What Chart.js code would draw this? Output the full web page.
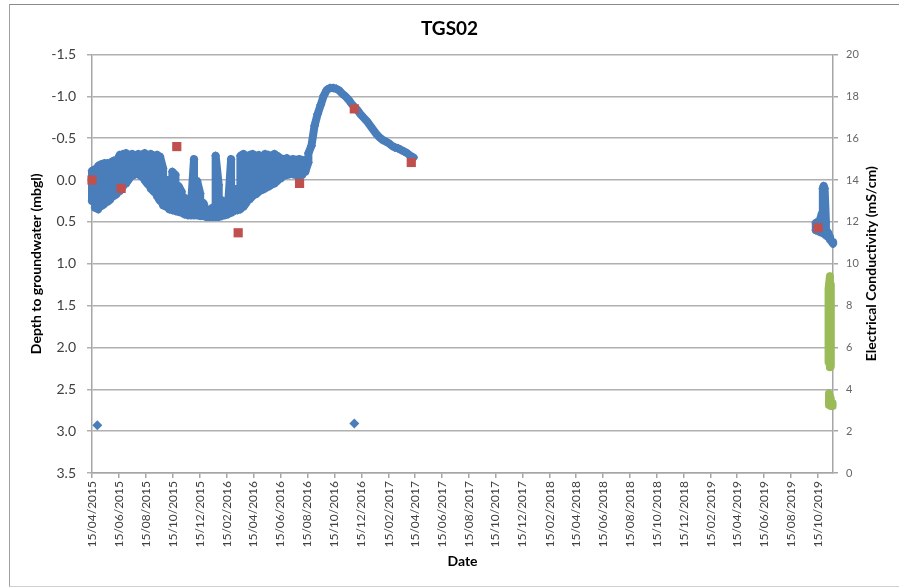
<!DOCTYPE html>
<html>
<head>
<meta charset="utf-8">
<title>TGS02</title>
<script src="https://cdn.jsdelivr.net/npm/chart.js@4.4.1/dist/chart.umd.min.js"></script>
<style>
  html, body { margin: 0; padding: 0; background: #fff; overflow: hidden; }
  #wrap { position: relative; width: 899px; height: 588px; overflow: hidden; }
  #frame {
    position: absolute; left: 9px; top: 4px; width: 910px; height: 583px;
    box-sizing: border-box; border: 1px solid #8a8a8a;
    border-left-color: #a0a0a0; border-bottom-color: #d0d0d0;
  }
  canvas { position: absolute; left: 0; top: 0; }
</style>
</head>
<body>
<div id="wrap">
  <div id="frame"></div>
  <canvas id="chart" width="899" height="588"></canvas>
</div>
<script>
// ---- Axis labels ----
const chartTitle = 'TGS02';
const depthAxisTitle = 'Depth to groundwater (mbgl)';
const ecAxisTitle = 'Electrical Conductivity (mS/cm)';
const dateAxisTitle = 'Date';

const tickLabels = [
  '15/04/2015', '15/06/2015', '15/08/2015', '15/10/2015', '15/12/2015',
  '15/02/2016', '15/04/2016', '15/06/2016', '15/08/2016', '15/10/2016', '15/12/2016',
  '15/02/2017', '15/04/2017', '15/06/2017', '15/08/2017', '15/10/2017', '15/12/2017',
  '15/02/2018', '15/04/2018', '15/06/2018', '15/08/2018', '15/10/2018', '15/12/2018',
  '15/02/2019', '15/04/2019', '15/06/2019', '15/08/2019', '15/10/2019'
];
const axisStart = '2015-04-15';
const axisEnd = '2019-11-18';

// ---- Logger record 2015-2017: shallowest and deepest reading per week (m bgl) ----
const depthDates = [
  '2015-04-15', '2015-04-22', '2015-04-29', '2015-05-06', '2015-05-13', '2015-05-20', '2015-05-27', '2015-06-03', '2015-06-10', '2015-06-17',
  '2015-06-24', '2015-07-01', '2015-07-08', '2015-07-15', '2015-07-22', '2015-07-29', '2015-08-05', '2015-08-12', '2015-08-19', '2015-08-26',
  '2015-09-02', '2015-09-09', '2015-09-16', '2015-09-23', '2015-09-30', '2015-10-07', '2015-10-14', '2015-10-21', '2015-10-28', '2015-11-04',
  '2015-11-11', '2015-11-18', '2015-11-25', '2015-12-02', '2015-12-09', '2015-12-16', '2015-12-23', '2015-12-30', '2016-01-06', '2016-01-13',
  '2016-01-20', '2016-01-27', '2016-02-03', '2016-02-10', '2016-02-17', '2016-02-24', '2016-03-02', '2016-03-09', '2016-03-16', '2016-03-23',
  '2016-03-30', '2016-04-06', '2016-04-13', '2016-04-20', '2016-04-27', '2016-05-04', '2016-05-11', '2016-05-18', '2016-05-25', '2016-06-01',
  '2016-06-08', '2016-06-15', '2016-06-22', '2016-06-29', '2016-07-06', '2016-07-13', '2016-07-20', '2016-07-27', '2016-08-03', '2016-08-10',
  '2016-08-17', '2016-08-24', '2016-08-31', '2016-09-07', '2016-09-14', '2016-09-21', '2016-09-28', '2016-10-05', '2016-10-12', '2016-10-19',
  '2016-10-26', '2016-11-02', '2016-11-09', '2016-11-16', '2016-11-23', '2016-11-30', '2016-12-07', '2016-12-14', '2016-12-21', '2016-12-28',
  '2017-01-04', '2017-01-11', '2017-01-18', '2017-01-25', '2017-02-01', '2017-02-08', '2017-02-15', '2017-02-22', '2017-03-01', '2017-03-08',
  '2017-03-15', '2017-03-22', '2017-03-29', '2017-04-05', '2017-04-12'
];
const depthShallow = [
  -0.11, -0.13, -0.17, -0.19, -0.20, -0.20, -0.21, -0.23, -0.23, -0.30,
  -0.31, -0.32, -0.30, -0.31, -0.29, -0.31, -0.30, -0.32, -0.30, -0.31,
  -0.29, -0.30, -0.28, -0.14, 0.00, 0.00, -0.10, -0.06, 0.07, 0.14,
  0.21, 0.26, 0.32, -0.25, 0.01, 0.16, 0.27, 0.37, 0.42, 0.33,
  -0.29, 0.06, 0.24, 0.32, 0.31, -0.25, 0.10, 0.21, -0.29, -0.31,
  -0.28, -0.30, -0.31, -0.29, -0.30, -0.28, -0.31, -0.30, -0.29, -0.31,
  -0.29, -0.26, -0.25, -0.26, -0.24, -0.25, -0.24, -0.25, -0.24, -0.23,
  -0.32, -0.41, -0.65, -0.79, -0.90, -1.01, -1.08, -1.10, -1.10, -1.09,
  -1.07, -1.03, -1.00, -0.96, -0.91, -0.87, -0.83, -0.78, -0.74, -0.70,
  -0.65, -0.60, -0.55, -0.51, -0.48, -0.46, -0.44, -0.41, -0.39, -0.38,
  -0.36, -0.34, -0.32, -0.29, -0.27
];
const depthDeep = [
  0.25, 0.33, 0.35, 0.31, 0.29, 0.26, 0.23, 0.19, 0.17, 0.13,
  0.08, 0.04, -0.01, -0.05, -0.07, -0.07, -0.04, 0.00, 0.05, 0.10,
  0.14, 0.19, 0.25, 0.30, 0.32, 0.35, 0.36, 0.37, 0.38, 0.39,
  0.41, 0.42, 0.42, 0.42, 0.42, 0.43, 0.43, 0.44, 0.44, 0.44,
  0.44, 0.44, 0.43, 0.42, 0.41, 0.39, 0.37, 0.36, 0.35, 0.32,
  0.27, 0.23, 0.19, 0.17, 0.14, 0.12, 0.10, 0.08, 0.06, 0.04,
  0.01, -0.02, -0.05, -0.06, -0.07, -0.07, -0.06, -0.05, -0.06, -0.10,
  -0.21, -0.41, -0.65, -0.79, -0.90, -1.01, -1.08, -1.10, -1.10, -1.09,
  -1.07, -1.03, -1.00, -0.96, -0.91, -0.87, -0.83, -0.78, -0.74, -0.70,
  -0.65, -0.60, -0.55, -0.51, -0.48, -0.46, -0.44, -0.41, -0.39, -0.38,
  -0.36, -0.34, -0.32, -0.29, -0.27
];

// ---- Logger record 2019 ----
const recentDates = ['2019-10-10', '2019-10-15', '2019-10-19', '2019-10-24', '2019-10-26', '2019-10-28', '2019-10-30', '2019-11-02', '2019-11-06', '2019-11-11', '2019-11-18'];
const recentShallow = [0.51, 0.50, 0.48, 0.40, 0.10, 0.07, 0.10, 0.50, 0.62, 0.68, 0.74];
const recentDeep = [0.60, 0.61, 0.62, 0.63, 0.63, 0.64, 0.65, 0.66, 0.68, 0.71, 0.76];

// ---- Spurious logger readings ----
const spikeDates = ['2015-04-27', '2016-11-29'];
const spikeDepths = [2.93, 2.91];

// ---- Manual dip readings (m bgl) ----
const dipDates = ['2015-04-15', '2015-06-20', '2015-10-24', '2016-03-11', '2016-07-28', '2016-11-29', '2017-04-07', '2019-10-15'];
const dipDepths = [0.00, 0.10, -0.40, 0.63, 0.04, -0.85, -0.21, 0.57];

// ---- Electrical conductivity (mS/cm), two logger runs ----
const ecDates = ['2019-11-08', '2019-11-11', '2019-11-13'];
const ecLow = [5.30, 5.05, 5.10];
const ecHigh = [8.80, 9.40, 9.00];
const ecDates2 = ['2019-11-09', '2019-11-13', '2019-11-17'];
const ecLow2 = [3.25, 3.20, 3.20];
const ecHigh2 = [3.80, 3.55, 3.35];

// ---- Helpers ----
const DAY = 86400000;
function isoDay(s) {
  const [y, m, d] = s.split('-').map(Number);
  return Date.UTC(y, m - 1, d) / DAY;
}
function dmyDay(s) {
  const [d, m, y] = s.split('/').map(Number);
  return Date.UTC(y, m - 1, d) / DAY;
}
// Weekly range as a zig-zag path: each date gets a vertical run from its
// deepest to its shallowest reading, alternating direction.
function rangePath(dates, shallow, deep) {
  const pts = [];
  dates.forEach((d, i) => {
    const x = isoDay(d);
    const pair = i % 2 === 0 ? [deep[i], shallow[i]] : [shallow[i], deep[i]];
    pair.forEach(v => pts.push({ x, y: v }));
  });
  return pts;
}
function points(dates, values) {
  return dates.map((d, i) => ({ x: isoDay(d), y: values[i] }));
}

const BLUE = '#4a7ebb';
const RED = '#c0504d';
const GREEN = '#9bbb59';

// Dense logger readings: thick joined path plus diamond/triangle markers
const bandStyle = (color, axis, marker) => ({
  showLine: true,
  borderColor: color,
  backgroundColor: color,
  borderWidth: 8,
  borderJoinStyle: 'round',
  borderCapStyle: 'round',
  pointStyle: marker,
  pointRadius: 4.5,
  pointBackgroundColor: color,
  pointBorderColor: color,
  pointBorderWidth: 0,
  tension: 0,
  yAxisID: axis,
  clip: false
});

const tickDays = tickLabels.map(dmyDay);

const rightTitle = {
  id: 'rightTitle',
  afterDraw(chart) {
    const { ctx, chartArea, scales } = chart;
    ctx.save();
    ctx.translate(scales.y2.left + 38, (chartArea.top + chartArea.bottom) / 2);
    ctx.rotate(-Math.PI / 2);
    ctx.font = "bold 14px Lato, 'Open Sans', sans-serif";
    ctx.fillStyle = '#000';
    ctx.textAlign = 'center';
    ctx.textBaseline = 'middle';
    ctx.fillText(ecAxisTitle, 0, 0);
    ctx.restore();
  }
};

Chart.defaults.font.family = "Lato, 'Open Sans', sans-serif";

new Chart(document.getElementById('chart'), {
  type: 'scatter',
  data: {
    datasets: [
      {
        label: 'Manual dip',
        data: points(dipDates, dipDepths),
        pointStyle: 'rect',
        pointRadius: 6.5,
        pointBackgroundColor: RED,
        pointBorderColor: RED,
        pointBorderWidth: 0,
        yAxisID: 'y',
        order: 0,
        clip: false
      },
      {
        label: 'Logger (spurious)',
        data: points(spikeDates, spikeDepths),
        pointStyle: 'rectRot',
        pointRadius: 5,
        pointBackgroundColor: BLUE,
        pointBorderColor: BLUE,
        pointBorderWidth: 0,
        yAxisID: 'y',
        order: 1,
        clip: false
      },
      Object.assign({ label: 'Logger 2015-2017', data: rangePath(depthDates, depthShallow, depthDeep), order: 2 }, bandStyle(BLUE, 'y', 'rectRot')),
      Object.assign({ label: 'Logger 2019', data: rangePath(recentDates, recentShallow, recentDeep), order: 2 }, bandStyle(BLUE, 'y', 'rectRot')),
      Object.assign({ label: 'EC', data: rangePath(ecDates, ecHigh, ecLow), order: 3 }, bandStyle(GREEN, 'y2', 'triangle')),
      Object.assign({ label: 'EC (2)', data: rangePath(ecDates2, ecHigh2, ecLow2), order: 3 }, bandStyle(GREEN, 'y2', 'triangle'))
    ]
  },
  options: {
    responsive: false,
    animation: false,
    devicePixelRatio: 1,
    layout: { padding: 0 },
    plugins: {
      legend: { display: false },
      tooltip: { enabled: false },
      title: {
        display: true,
        text: chartTitle,
        color: '#000',
        font: { size: 19, weight: 'bold', lineHeight: 1.2 },
        padding: { top: 17, bottom: 14.7 }
      }
    },
    scales: {
      x: {
        type: 'linear',
        position: 'bottom',
        min: isoDay(axisStart),
        max: isoDay(axisEnd),
        afterBuildTicks: s => { s.ticks = tickDays.map(v => ({ value: v })); },
        afterFit: s => { s.height = 115; },
        ticks: {
          autoSkip: false,
          minRotation: 90,
          maxRotation: 90,
          padding: 3,
          color: '#404040',
          font: { size: 12 },
          callback: (v, i) => tickLabels[i]
        },
        grid: { drawOnChartArea: false, drawTicks: true, tickLength: 5, color: '#a6a6a6', lineWidth: 1.5 },
        border: { display: true, color: '#a6a6a6', width: 1.5 },
        title: {
          display: true, text: dateAxisTitle, color: '#000',
          font: { size: 14, weight: 'bold', lineHeight: 1.2 },
          padding: { top: 0, bottom: 18.6 }
        }
      },
      y: {
        position: 'left',
        reverse: true,
        min: -1.5,
        max: 3.5,
        afterFit: s => { s.width = 92; },
        ticks: {
          stepSize: 0.5,
          padding: 11,
          color: '#404040',
          font: { size: 14 },
          callback: v => Number(v).toFixed(1)
        },
        grid: { color: '#b0b0b0', lineWidth: 1.5, tickLength: 5 },
        border: { color: '#a6a6a6', width: 1.5 },
        title: {
          display: true, text: depthAxisTitle, color: '#000',
          font: { size: 14, weight: 'bold', lineHeight: 1.2 },
          padding: { top: 28, bottom: 0 }
        }
      },
      y2: {
        position: 'right',
        min: 0,
        max: 20,
        afterFit: s => { s.width = 66; },
        ticks: { stepSize: 2, padding: 8, color: '#666', font: { size: 11 } },
        grid: { drawOnChartArea: false, drawTicks: true, tickLength: 5, color: '#a6a6a6', lineWidth: 1.5 },
        border: { color: '#a6a6a6', width: 1.5 }
      }
    }
  },
  plugins: [rightTitle]
});
</script>
</body>
</html>
